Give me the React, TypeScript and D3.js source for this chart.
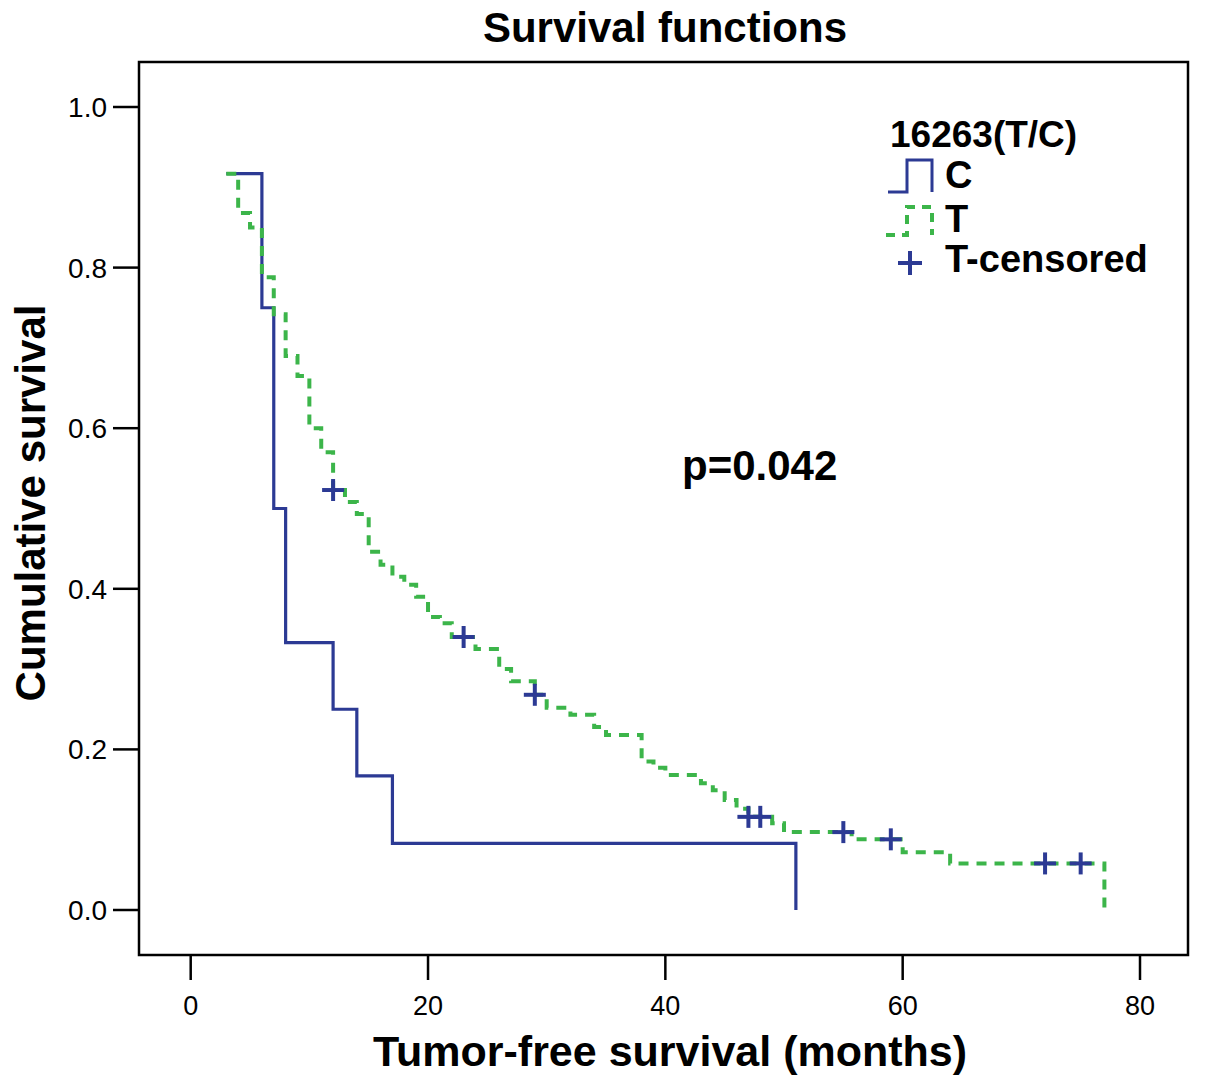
import React from "react";
import * as d3 from "d3";

const xTicks = [0, 20, 40, 60, 80];
const yTicks = [0.0, 0.2, 0.4, 0.6, 0.8, 1.0];

// Group C: [time (months), cumulative survival]
const cTimes = [3, 6, 7, 8, 12, 14, 17, 51];
const cSurv = [0.917, 0.75, 0.5, 0.333, 0.25, 0.167, 0.083, 0.0];

// Group T
const tTimes = [3, 4, 5, 6, 7, 8, 9, 10, 11, 12, 13, 14, 15, 16, 17, 18, 19, 20, 21, 22, 24, 26, 27, 29, 30, 32, 34, 35, 38, 39, 40, 43, 44, 45, 46, 47, 49, 50, 55.7, 60, 64, 77];
const tSurv = [0.917, 0.868, 0.85, 0.788, 0.742, 0.69, 0.665, 0.6, 0.57, 0.523, 0.508, 0.493, 0.446, 0.43, 0.415, 0.405, 0.39, 0.365, 0.357, 0.34, 0.325, 0.3, 0.285, 0.268, 0.252, 0.243, 0.228, 0.218, 0.185, 0.177, 0.168, 0.158, 0.149, 0.137, 0.126, 0.116, 0.108, 0.097, 0.088, 0.072, 0.058, 0.0];

// Censored times in group T
const tCensored = [12, 23, 29, 47, 48, 55, 59, 72, 75];

const BLUE = "#2c3a94";
const GREEN = "#3cb54a";
const FONT = "'Liberation Sans', Arial, sans-serif";

export default function App() {
  const W = 1205, H = 1087;
  const frame = { l: 139, t: 62, r: 1188, b: 955 };
  const x = d3.scaleLinear().domain([0, 80]).range([190.7, 1140]);
  const y = d3.scaleLinear().domain([0, 1]).range([910, 107]);

  const line = d3.line<[number, number]>()
    .x(d => x(d[0]))
    .y(d => y(d[1]))
    .curve(d3.curveStepAfter);

  const cPts = cTimes.map((t, i) => [t, cSurv[i]] as [number, number]);
  const tPts = tTimes.map((t, i) => [t, tSurv[i]] as [number, number]);

  const survAt = (t: number) => {
    let s = tSurv[0];
    for (let i = 0; i < tTimes.length; i++) if (tTimes[i] <= t) s = tSurv[i];
    return s;
  };

  const cross = (cx: number, cy: number, key: string, size = 11) => (
    <g key={key} stroke={BLUE} strokeWidth={4}>
      <line x1={cx - size} x2={cx + size} y1={cy} y2={cy} />
      <line x1={cx} x2={cx} y1={cy - size} y2={cy + size} />
    </g>
  );

  return (
    <svg width={W} height={H} style={{ position: "absolute", left: 0, top: 0, background: "#fff" }} fontFamily={FONT}>
      <rect x={0} y={0} width={W} height={H} fill="#fff" />
      <text x={665} y={42} textAnchor="middle" fontSize={42} fontWeight="bold">Survival functions</text>

      <rect x={frame.l} y={frame.t} width={frame.r - frame.l} height={frame.b - frame.t} fill="none" stroke="#000" strokeWidth={2.5} />

      {yTicks.map(v => (
        <g key={"y" + v}>
          <line x1={113} x2={frame.l} y1={y(v)} y2={y(v)} stroke="#000" strokeWidth={2.5} />
          <text x={107} y={y(v) + 10} textAnchor="end" fontSize={28}>{v.toFixed(1)}</text>
        </g>
      ))}
      {xTicks.map(v => (
        <g key={"x" + v}>
          <line x1={x(v)} x2={x(v)} y1={frame.b} y2={980} stroke="#000" strokeWidth={2.5} />
          <text x={x(v)} y={1015} textAnchor="middle" fontSize={27}>{v}</text>
        </g>
      ))}

      <text x={670} y={1066} textAnchor="middle" fontSize={43} fontWeight="bold">Tumor-free survival (months)</text>
      <text transform="translate(45,503) rotate(-90)" textAnchor="middle" fontSize={42} fontWeight="bold">Cumulative survival</text>

      <path d={line(cPts) || ""} fill="none" stroke={BLUE} strokeWidth={3.2} />
      <path d={line(tPts) || ""} fill="none" stroke={GREEN} strokeWidth={4} strokeDasharray="10 8" />
      {tCensored.map((t, i) => cross(x(t), y(survAt(t)), "c" + i))}

      <text x={682} y={480} fontSize={42} fontWeight="bold">p=0.042</text>

      <g>
        <text x={890} y={147} fontSize={37} fontWeight="bold">16263(T/C)</text>
        <path d="M888,192 H907 V160 H932 V192" fill="none" stroke={BLUE} strokeWidth={3} />
        <text x={945} y={188} fontSize={38} fontWeight="bold">C</text>
        <path d="M886,235 H907 V207 H932 V235" fill="none" stroke={GREEN} strokeWidth={4} strokeDasharray="9 7" />
        <text x={945} y={232} fontSize={38} fontWeight="bold">T</text>
        {cross(910, 263, "leg", 12)}
        <text x={945} y={272} fontSize={38} fontWeight="bold">T-censored</text>
      </g>
    </svg>
  );
}
